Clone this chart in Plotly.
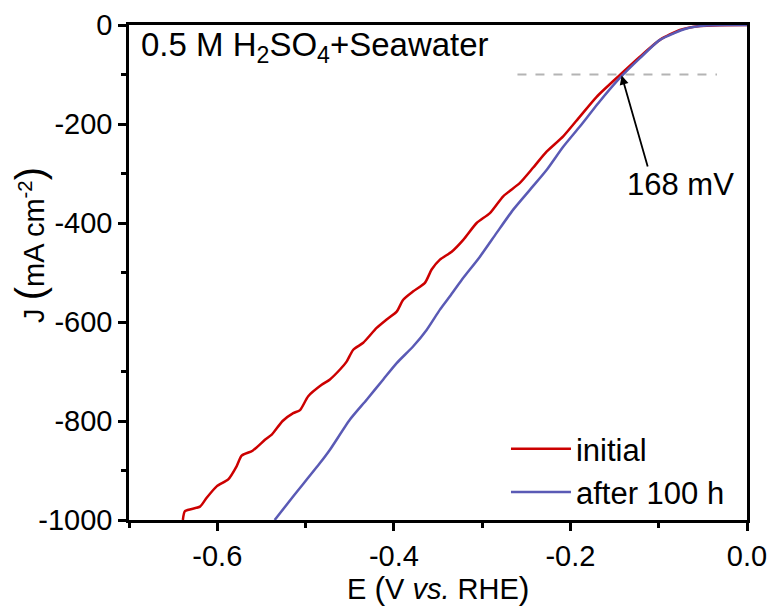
import plotly.graph_objects as go

# ---- data ----
E_initial = [-0.639, -0.6366, -0.6196, -0.612, -0.6007, -0.5876, -0.578, -0.5724,
             -0.560, -0.546, -0.538, -0.526, -0.514, -0.5063, -0.497, -0.4818,
             -0.4724, -0.461, -0.4535, -0.446, -0.4347, -0.4195, -0.4082, -0.3968,
             -0.3894, -0.378, -0.3648, -0.3572, -0.3478, -0.3345, -0.3214, -0.3062,
             -0.2912, -0.2761, -0.2572, -0.2421, -0.227, -0.2082, -0.1893, -0.1703,
             -0.144, -0.1213, -0.0986, -0.076, -0.0533, -0.03, 0.0]
J_initial = [-1000, -982, -973, -955, -932, -918, -891, -870,
             -860, -838, -827, -800, -784, -778, -750, -727,
             -716, -696, -680, -656, -642, -612, -595, -579,
             -555, -538, -521, -494, -474, -458, -434, -400,
             -380, -346, -319, -288, -256, -225, -185, -145,
             -101, -64, -30, -10, -2, -0.3, 0]

E_after = [-0.535, -0.5139, -0.4837, -0.4724, -0.4497, -0.4308, -0.412, -0.3968,
           -0.378, -0.3629, -0.3478, -0.3365, -0.3232, -0.3025, -0.2836, -0.2648,
           -0.2459, -0.227, -0.2082, -0.1893, -0.1685, -0.144, -0.1213, -0.0986,
           -0.0685, -0.0458, -0.02, 0.0]
J_after = [-1000, -952, -885, -858, -797, -757, -716, -683,
           -649, -616, -575, -548, -515, -468, -420, -373,
           -333, -293, -246, -205, -158, -107, -67, -30,
           -7, -1, 0, 0]

series_names = ["initial", "after 100 h"]

ref_E = [-0.26, -0.034]
ref_J = [-100, -100]

x_tickvals = [-0.6, -0.4, -0.2, 0.0]
x_ticktext = ["-0.6", "-0.4", "-0.2", "0.0"]
x_minor = [-0.7, -0.5, -0.3, -0.1]
y_tickvals = [0, -200, -400, -600, -800, -1000]
y_ticktext = ["0", "-200", "-400", "-600", "-800", "-1000"]
y_minor = [-100, -300, -500, -700, -900]

arrow_tip = (-0.142, -102)
arrow_tail = (-0.112, -289)
label_168 = (-0.075, -323)

FONT = "Arial, 'Liberation Sans', sans-serif"

fig = go.Figure()
fig.add_trace(go.Scatter(x=ref_E, y=ref_J, mode="lines", showlegend=False,
                         line=dict(color="#b4b4b4", width=2, dash="dash"),
                         hoverinfo="skip"))
fig.add_trace(go.Scatter(x=E_initial, y=J_initial, mode="lines", name=series_names[0],
                         line=dict(color="#CC0000", width=2.5, shape="spline", smoothing=0.6)))
fig.add_trace(go.Scatter(x=E_after, y=J_after, mode="lines", name=series_names[1],
                         line=dict(color="#5A5AB5", width=2.5, shape="spline", smoothing=0.6)))

axis_common = dict(showgrid=False, zeroline=False, showline=True, linecolor="black",
                   linewidth=2.5, mirror=True, ticks="outside", ticklen=8, tickwidth=2.5,
                   tickcolor="black", automargin=False,
                   tickfont=dict(family=FONT, size=29, color="black"))

fig.update_xaxes(range=[-0.7, 0.0], tickmode="array", tickvals=x_tickvals, ticktext=x_ticktext,
                 minor=dict(tickmode="array", tickvals=x_minor, ticks="outside", ticklen=5,
                            tickwidth=2.5, tickcolor="black"),
                 **axis_common)
fig.update_yaxes(range=[-1000, 0], tickmode="array", tickvals=y_tickvals, ticktext=y_ticktext,
                 minor=dict(tickmode="array", tickvals=y_minor, ticks="outside", ticklen=5,
                            tickwidth=2.5, tickcolor="black"),
                 **axis_common)

# axis titles placed as annotations
fig.add_annotation(x=0.5, y=-0.137, xref="paper", yref="paper",
                   xanchor="center", yanchor="middle", showarrow=False,
                   text="E <span style='font-size:32px'>(</span>V <i>vs.</i> RHE<span style='font-size:32px'>)</span>",
                   font=dict(family=FONT, size=29, color="black"))
fig.add_annotation(x=-0.16, y=0.556, xref="paper", yref="paper", textangle=-90,
                   xanchor="center", yanchor="middle", showarrow=False,
                   text="J <span style='font-size:40px'>(</span>mA cm<sup>-2</sup><span style='font-size:40px'>)</span>",
                   font=dict(family=FONT, size=29, color="black"))

fig.add_annotation(x=arrow_tip[0], y=arrow_tip[1], ax=arrow_tail[0], ay=arrow_tail[1],
                   xref="x", yref="y", axref="x", ayref="y", text="", showarrow=True,
                   arrowhead=2, arrowsize=1, arrowwidth=1.8, arrowcolor="black")
fig.add_annotation(x=label_168[0], y=label_168[1], xref="x", yref="y", text="168 mV",
                   showarrow=False, font=dict(family=FONT, size=31, color="black"))
fig.add_annotation(x=0.016, y=0.956, xref="paper", yref="paper", xanchor="left", yanchor="middle",
                   text="0.5 M H<sub>2</sub>SO<sub>4</sub>+Seawater", showarrow=False,
                   font=dict(family=FONT, size=33, color="black"))

fig.update_layout(
    width=774, height=608,
    margin=dict(l=129, r=27, t=25, b=88),
    paper_bgcolor="white", plot_bgcolor="white",
    legend=dict(x=0.61, y=0.002, xanchor="left", yanchor="bottom",
                bgcolor="rgba(0,0,0,0)", borderwidth=0,
                font=dict(family=FONT, size=31, color="black"),
                tracegroupgap=0, itemwidth=60),
    showlegend=True,
)

fig.write_html("out.html")
